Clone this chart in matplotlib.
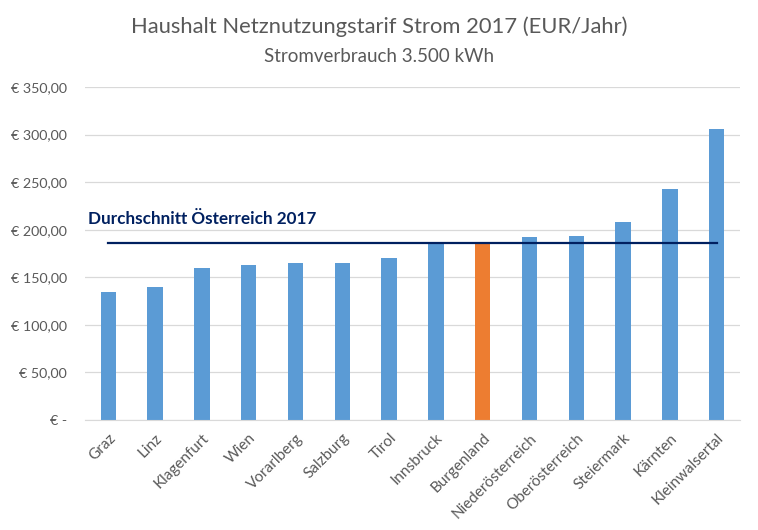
import matplotlib
matplotlib.use("Agg")
import matplotlib.pyplot as plt
import numpy as np

categories = ["Graz", "Linz", "Klagenfurt", "Wien", "Vorarlberg", "Salzburg", "Tirol",
              "Innsbruck", "Burgenland", "Niederösterreich", "Oberösterreich",
              "Steiermark", "Kärnten", "Kleinwalsertal"]
values = [135, 140, 160, 163, 165, 165, 170.5, 186, 186, 192.5, 193.5, 208, 243, 306]
average = 186
highlight = "Burgenland"
yticks = [0, 50, 100, 150, 200, 250, 300, 350]
ytick_labels = ["€ -", "€ 50,00", "€ 100,00", "€ 150,00", "€ 200,00", "€ 250,00", "€ 300,00", "€ 350,00"]

plt.rcParams['font.family'] = ['Lato', 'DejaVu Sans']
gray = "#595959"

fig = plt.figure(figsize=(7.58, 5.30), dpi=100)
ax = fig.add_axes([85/758, 1-420/530, 655/758, 333/530])

x = np.arange(len(categories))
colors = ["#ED7D31" if c == highlight else "#5B9BD5" for c in categories]
ax.bar(x, values, width=0.33, color=colors, zorder=2)
ax.plot(x, [average]*len(x), color="#002060", linewidth=1.6, zorder=3)

ax.set_xlim(-0.5, len(x)-0.5)
ax.set_ylim(0, 350)
ax.set_yticks(yticks)
ax.set_yticklabels(ytick_labels, color=gray, fontsize=10.3)
ax.set_xticks(x)
ax.set_xticklabels(categories, rotation=45, ha="right", rotation_mode="anchor",
                   color=gray, fontsize=11)
ax.grid(axis="y", color="#D9D9D9", linewidth=0.9, zorder=0)
for s in ["top", "right", "left"]:
    ax.spines[s].set_visible(False)
ax.spines["bottom"].set_color("#D9D9D9")
ax.tick_params(axis="both", length=0, pad=8)
ax.tick_params(axis="y", pad=13)

fig.text(0.5, 1-27/530, "Haushalt Netznutzungstarif Strom 2017 (EUR/Jahr)", ha="center", va="center",
         fontsize=15.8, color=gray)
fig.text(0.5, 1-56/530, "Stromverbrauch 3.500 kWh", ha="center", va="center",
         fontsize=13.5, color=gray)
fig.text(88/758, 1-219/530, "Durchschnitt Österreich 2017", ha="left", va="center",
         fontsize=12.3, fontweight="bold", color="#002060")

fig.savefig("out.png", dpi=100)
